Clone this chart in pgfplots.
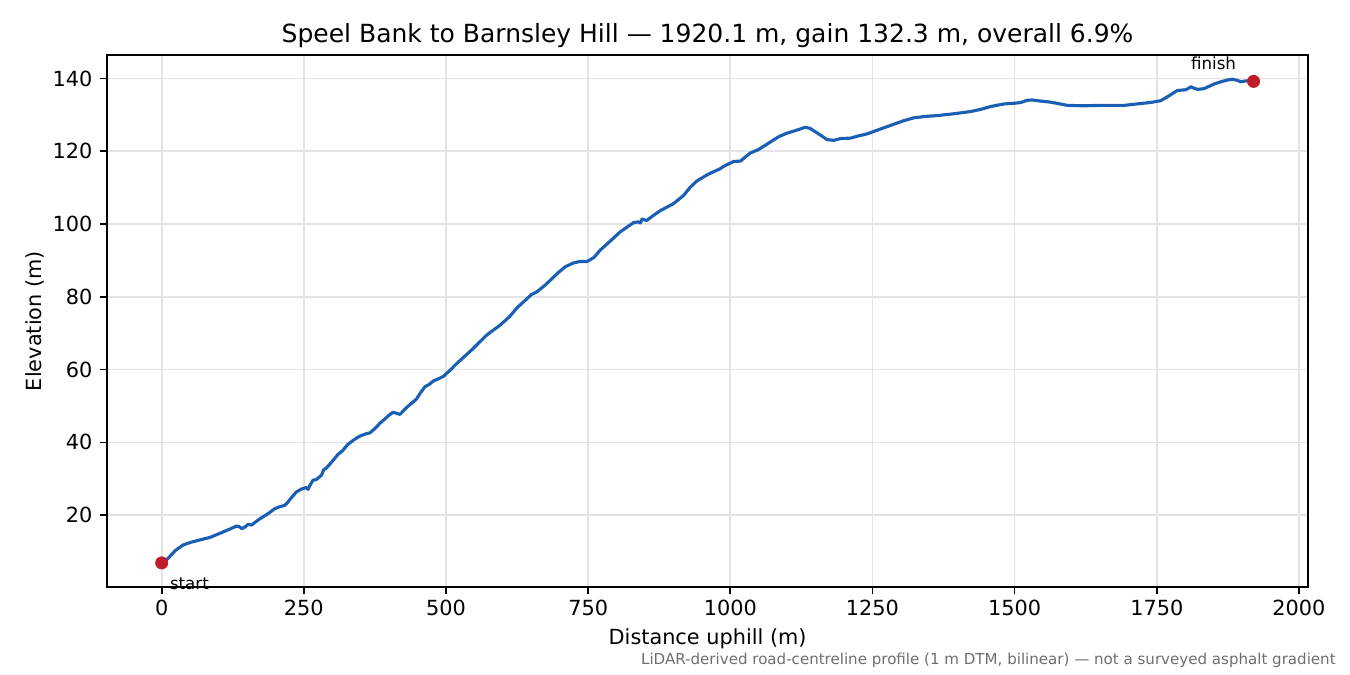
\documentclass[border=0pt]{standalone}
\usepackage{pgfplots}
\pgfplotsset{compat=1.18}
\usepackage{fontspec}
\setmainfont{DejaVu Sans}
\definecolor{lineblue}{HTML}{1A5FB4}
\definecolor{dotred}{HTML}{C01C28}
\definecolor{gridgray}{HTML}{E4E4E4}
\definecolor{footgray}{HTML}{6E6E6E}
\begin{document}
\begin{tikzpicture}
\path[use as bounding box] (0,0) rectangle (648pt,324pt);
\begin{axis}[
  at={(51.4pt,42.2pt)}, anchor=south west,
  scale only axis, width=576.5pt, height=255.4pt,
  xmin=-96, xmax=2016.1, ymin=0.25, ymax=146.45,
  xtick={0,250,500,750,1000,1250,1500,1750,2000},
  ytick={20,40,60,80,100,120,140},
  tick align=outside, tick pos=left,
  major tick length=3.5pt,
  every tick/.style={black, line width=0.8pt},
  axis line style={black, line width=0.8pt},
  grid=major,
  major grid style={gridgray, line width=0.8pt},
  tick label style={font=\fontsize{10}{12}\selectfont},
  xticklabel style={yshift=1pt},
  /pgf/number format/assume math mode=true,
  /pgf/number format/1000 sep={},
  clip=false,
]
\addplot[lineblue, line width=1.5pt, line join=round] coordinates {
(0,6.9) (11,8.1) (24,10.3) (37.5,11.8) (50,12.5) (67,13.2) (85,13.9) (102,15.0)
(120,16.2) (131.5,17.0) (136,16.9) (141,16.3) (147,16.8) (152,17.5) (158,17.3)
(172.5,19.0) (186,20.3) (199,21.8) (207,22.3) (216.5,22.7) (222,23.6) (228,24.8)
(237,26.4) (246,27.2) (254,27.6) (257.5,27.1) (260,28.0) (266,29.6) (272,29.8)
(281,31.0) (285,32.5) (290,33.0) (300,34.8) (310,36.7) (318,37.7) (327,39.4)
(337,40.6) (348,41.7) (360,42.4) (366,42.6) (375,43.8) (384,45.3) (393,46.5)
(400,47.5) (407,48.3) (413,48.0) (419,47.7) (430,49.5) (448,51.9) (455,53.6)
(463,55.3) (470,55.9) (478,56.9) (487,57.5) (495,58.1) (507,59.8) (519,61.7)
(545,65.4) (571,69.4) (580,70.5) (595,72.2) (612,74.6) (625,77.0) (639,79.0)
(650,80.6) (660,81.4) (675,83.3) (689,85.4) (697,86.6) (710,88.3) (724,89.3)
(735,89.7) (748,89.7) (760,90.8) (771,92.8) (788,95.2) (806,97.8) (815,98.8)
(830,100.4) (838,100.6) (842,100.3) (845,101.4) (850,101.1) (853,101.0)
(865,102.4) (877,103.7) (900,105.6) (918,107.9) (930,110.2) (941,111.8)
(960,113.6) (982,115.2) (990,116.0) (1006,117.2) (1018,117.3) (1027,118.5)
(1035,119.5) (1050,120.5) (1070,122.5) (1085,124.0) (1100,125.0) (1115,125.7)
(1132,126.6) (1140,126.3) (1147,125.6) (1158,124.5) (1170,123.2) (1182,123.0)
(1194,123.5) (1211,123.6) (1225,124.2) (1241,124.8) (1262,126.0) (1287,127.4)
(1305,128.4) (1323,129.2) (1345,129.6) (1364,129.8) (1393,130.3) (1422,130.9)
(1440,131.5) (1458,132.3) (1481,133.0) (1500,133.2) (1511,133.4) (1522,134.0)
(1531,134.1) (1545,133.8) (1563,133.5) (1580,133.0) (1593,132.6) (1620,132.5)
(1651,132.6) (1692,132.6) (1715,133.0) (1739,133.4) (1757,133.9) (1770,135.1)
(1786,136.7) (1801,136.9) (1810,137.7) (1816,137.3) (1822,137.0) (1833,137.2)
(1851,138.5) (1865,139.2) (1875,139.6) (1883,139.8) (1891,139.5) (1898,139.1)
(1905,139.3) (1913,139.4) (1920.1,139.2)
};
\addplot[only marks, mark=*, mark size=2.9pt, dotred, mark options={draw=dotred, fill=dotred}] coordinates {(0,6.9) (1920.1,139.2)};
\node[anchor=west, inner sep=0pt, font=\fontsize{8}{9}\selectfont] at (axis cs:0,6.9) [xshift=3.8pt, yshift=-9.8pt] {start};
\node[anchor=center, inner sep=0pt, font=\fontsize{8}{9}\selectfont] at (axis cs:1920.1,139.2) [xshift=-19.2pt, yshift=8.9pt] {finish};
\node[anchor=base, inner sep=0pt, font=\fontsize{12}{14}\selectfont] at (rel axis cs:0.5,1) [yshift=6.1pt] {Speel Bank to Barnsley Hill — 1920.1 m, gain 132.3 m, overall 6.9\%};
\node[anchor=base, inner sep=0pt, font=\fontsize{10}{12}\selectfont] at (rel axis cs:0.5,0) [yshift=-27.8pt] {Distance uphill (m)};
\node[anchor=base, rotate=90, inner sep=0pt, font=\fontsize{10}{12}\selectfont] at (rel axis cs:0,0.5) [yshift=31.7pt] {Elevation (m)};
\end{axis}
\node[anchor=base east, inner sep=0pt, text=footgray, font=\fontsize{7.23}{8}\selectfont] at (641.3pt,5.0pt) {LiDAR-derived road-centreline profile (1 m DTM, bilinear) — not a surveyed asphalt gradient};
\end{tikzpicture}
\end{document}
